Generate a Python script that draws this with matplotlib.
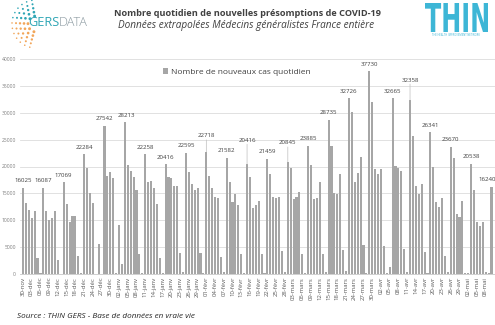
import numpy as np
import pandas as pd
import matplotlib
matplotlib.use("Agg")
import matplotlib.pyplot as plt
from matplotlib.textpath import TextPath
from matplotlib.patches import PathPatch
from matplotlib.font_manager import FontProperties
from matplotlib.transforms import Affine2D

# ---------------------------------------------------------------- data
START_DATE = "2020-11-30"

daily_cases = [
    16025, 13200, 11900, 10500, 11800, 2900, 100,
    16087, 11700, 10000, 10500, 11800, 2600, 50,
    17069, 13000, 9700, 10800, 10850, 3300, 150,
    22284, 19650, 15100, 13270, 0, 5500, 0,
    27542, 18200, 19000, 17800, 100, 9100, 1800,
    28213, 20270, 19160, 18100, 15620, 3660, 100,
    22258, 17170, 17300, 16060, 13020, 3040, 100,
    20416, 18040, 17800, 16430, 16430, 3840, 430,
    22595, 18900, 16680, 15560, 16060, 3840, 200,
    22718, 18300, 16060, 14380, 14070, 3220, 430,
    21582, 17170, 13450, 14820, 12830, 3660, 200,
    20416, 17980, 12200, 12830, 13580, 3660, 100,
    21459, 18540, 14380, 14070, 14380, 4340, 300,
    20845, 19650, 13950, 14380, 15300, 3720, 100,
    23885, 20270, 13950, 14070, 17170, 3720, 300,
    28735, 23750, 15130, 14940, 18540, 4460, 560,
    32726, 30070, 17170, 18720, 21820, 5400, 100,
    37730, 32050, 19470, 18600, 19470, 5270, 100,
    1300, 32665, 20030, 19780, 19160, 4650, 300,
    32358, 25600, 16370, 14820, 16680, 4030, 100,
    26341, 19900, 13330, 12520, 14070, 3350, 300,
    23670, 21510, 11100, 10660, 13640, 150, 250,
    20538, 15620, 9730, 8930, 9730, 300, 100,
    16240,
]

# bars carrying a value label
labelled_days = [0, 7, 14, 21, 28, 35, 42, 49, 56, 63, 70, 77, 84, 91,
                 98, 105, 112, 119, 127, 133, 140, 147, 154, 161]

MONTHS_FR = {11: "nov", 12: "déc", 1: "janv", 2: "févr",
             3: "mars", 4: "avr", 5: "mai"}

dates = pd.date_range(START_DATE, periods=len(daily_cases))
day_labels = [f"{d.day:02d}-{MONTHS_FR[d.month]}" for d in dates]

y_ticks = list(range(0, 40001, 5000))

TITLE = "Nombre quotidien de nouvelles présomptions de COVID-19"
SUBTITLE = "Données extrapolées Médecins généralistes France entière"
SERIES_NAME = "Nombre de nouveaux cas quotidien"
SOURCE = "Source : THIN GERS - Base de données en vraie vie"

# --------------------------------------------------------------- style
W, H = 495, 325
BAR_COLOR = "#a6a6a6"
GRID_COLOR = "#dcdcdc"
TEXT_DARK = "#404040"
TICK_COLOR = "#7f7f7f"
TEAL = "#2fa6b5"
THIN_BLUE = "#3db6d6"
FONT = "Open Sans"

# label lift above bar tops (pixels); some labels sit higher with a leader line
label_lift = {63: 16, 77: 24, 91: 19, 133: 20}
label_shift = {35: 2, 161: -4}

fig = plt.figure(figsize=(W / 100, H / 100), dpi=100)
fig.patch.set_facecolor("white")

ax = fig.add_axes([20 / W, 1 - 274 / H, 475 / W, 215 / H])
x = np.arange(len(daily_cases))
bars = ax.bar(x, daily_cases, width=0.72, color=BAR_COLOR,
              label=SERIES_NAME, zorder=2)

ax.set_xlim(-1.03, 162.2)
ax.set_ylim(0, 40000)
ax.set_yticks(y_ticks)
ax.set_yticklabels([str(t) for t in y_ticks], fontsize=3.6,
                   color=TICK_COLOR, family=FONT)
ax.set_xticks(x[::3])
ax.set_xticklabels(day_labels[::3], rotation=90, fontsize=4.3,
                   color="#595959", family=FONT)
ax.tick_params(axis="both", length=0, pad=2)
ax.tick_params(axis="y", pad=3)
ax.grid(axis="y", color=GRID_COLOR, linewidth=0.6, zorder=0)
for side in ("top", "right", "left"):
    ax.spines[side].set_visible(False)
ax.spines["bottom"].set_color("#c8c8c8")
ax.spines["bottom"].set_linewidth(0.6)

for i in labelled_days:
    v = daily_cases[i]
    lift = label_lift.get(i, 7)
    dx = label_shift.get(i, 0)
    ax.annotate(str(v), xy=(i, v), xytext=(dx, lift),
                textcoords="offset pixels", ha="center", va="center",
                fontsize=4.4, color=TEXT_DARK, family=FONT,
                annotation_clip=False, zorder=4)
    if lift > 10:
        ax.annotate("", xy=(i, v), xytext=(0, lift - 4),
                    textcoords="offset pixels",
                    arrowprops=dict(arrowstyle="-", color="#bfbfbf",
                                    linewidth=0.5, shrinkA=0, shrinkB=0),
                    zorder=3)

leg = ax.legend(loc="center left", bbox_to_anchor=(155 / W, 1 - 72 / H),
                bbox_transform=fig.transFigure, frameon=False,
                handlelength=0.6, handleheight=0.6, handletextpad=0.45,
                prop=FontProperties(family=FONT, size=6.0))
for t in leg.get_texts():
    t.set_color(TEXT_DARK)

# ------------------------------------------------------------ headings
fig.text(247 / W, 1 - 13 / H, TITLE, ha="center", va="center",
         fontsize=6.6, fontweight="bold", color=TEXT_DARK, family=FONT)
fig.text(246 / W, 1 - 25.5 / H, SUBTITLE, ha="center", va="center",
         fontsize=7.2, style="italic", color=TEXT_DARK, family=FONT)
fig.text(17 / W, 1 - 316.5 / H, SOURCE, ha="left", va="center",
         fontsize=5.9, style="italic", color="#262626", family=FONT)

# --------------------------------------------------------------- logos
deco = fig.add_axes([0, 0, 1, 1], zorder=5)
deco.set_xlim(0, W)
deco.set_ylim(H, 0)
deco.axis("off")

# dotted arc of the GERSDATA mark
cx, cy = 36, 24
for ring, r in enumerate([8, 12, 16, 20, 24]):
    n = 5 + ring * 2
    ang = np.linspace(np.deg2rad(100), np.deg2rad(255), n)
    px = cx + r * np.cos(ang)
    py = cy - r * np.sin(ang)
    frac = (np.rad2deg(ang) - 100) / 155
    cols = [TEAL if f < 0.45 else "#f2a65a" for f in frac]
    deco.scatter(px, py, s=4.5 - ring * 0.8, c=cols, linewidths=0)

gers = deco.text(28, 22.5, "GERS", ha="left", va="center", fontsize=9.2,
                 color=TEAL, family=FONT)
fig.canvas.draw()
bb = gers.get_window_extent()
x_after = deco.transData.inverted().transform((bb.x1, bb.y0))[0]
deco.text(x_after, 22.5, "DATA", ha="left", va="center", fontsize=9.2,
          color="#8e9ca3", family=FONT, fontweight="light")

# THIN mark, condensed lettering
tp = TextPath((0, 0), "THIN", size=10,
              prop=FontProperties(family="DejaVu Sans", weight="bold"))
ext = tp.get_extents()
sx = (488 - 425) / ext.width
sy = (32 - 3) / ext.height
tr = (Affine2D().translate(-ext.x0, -ext.y0).scale(sx, -sy)
      .translate(425, 32))
deco.add_patch(PathPatch(tr.transform_path(tp), facecolor=THIN_BLUE,
                         edgecolor="none"))
deco.text(456.5, 35, "THE HEALTH IMPROVEMENT NETWORK", ha="center",
          va="center", fontsize=1.9, color=THIN_BLUE, family=FONT)

fig.savefig("out.png", dpi=100, facecolor="white")
